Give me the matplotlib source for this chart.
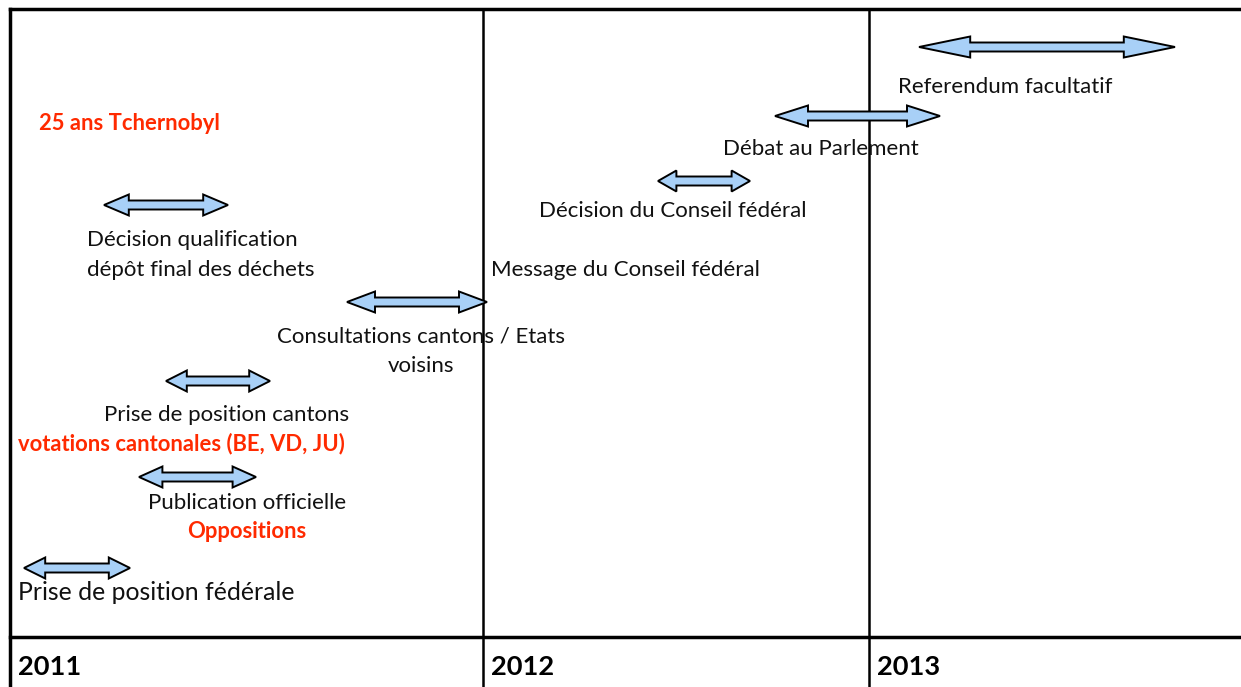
import matplotlib.pyplot as plt
from matplotlib.patches import Polygon

# timeline layout (in picture units, left -> right)
year_labels = ['2011', '2012', '2013']
year_starts = [10, 483, 869]

# arrows: start, end, vertical position
arrow_start = [919, 775, 658, 347, 104, 166, 139, 24]
arrow_end = [1175, 940, 750, 487, 228, 270, 256, 130]
arrow_y = [47, 116, 181, 302, 205, 381, 477, 568]

# black labels
labels = ['Referendum facultatif', 'Débat au Parlement', 'Décision du Conseil fédéral',
          'Message du Conseil fédéral', 'Consultations cantons / Etats\nvoisins',
          'Décision qualification\ndépôt final des déchets', 'Prise de position cantons',
          'Publication officielle', 'Prise de position fédérale']
label_x = [898, 723, 539, 491, 421, 87, 104, 148, 18]
label_y = [87, 149, 211, 270, 351, 255, 415, 503, 593]
label_ha = ['left', 'left', 'left', 'left', 'center', 'left', 'left', 'left', 'left']
label_size = [16, 16, 16, 16, 16, 16, 16, 16, 17.8]

# red highlights
notes = ['25 ans Tchernobyl', 'votations cantonales (BE, VD, JU)', 'Oppositions']
note_x = [39, 18, 187]
note_y = [124, 444, 532]

W, H = 1241, 687
fig = plt.figure(figsize=(W / 100, H / 100), dpi=100)
ax = fig.add_axes([0, 0, 1, 1])
ax.set_xlim(0, W)
ax.set_ylim(H, 0)
ax.axis('off')
font = 'Lato'

# grid of the table
ax.plot([year_starts[0], W], [9, 9], color='black', lw=2.5)
ax.plot([year_starts[0], W], [637, 637], color='black', lw=2.5)
for x in year_starts:
    ax.plot([x, x], [9, H], color='black', lw=2.5 if x == year_starts[0] else 1.8)
for yl, x in zip(year_labels, year_starts):
    ax.text(x + 8, 667, yl, fontsize=19.6, fontweight='bold', family=font,
            va='center', ha='left')


def double_arrow(x0, x1, y, shaft=9, head=21):
    hl = 0.2 * (x1 - x0)
    pts = [(x0, y), (x0 + hl, y - head / 2), (x0 + hl, y - shaft / 2),
           (x1 - hl, y - shaft / 2), (x1 - hl, y - head / 2), (x1, y),
           (x1 - hl, y + head / 2), (x1 - hl, y + shaft / 2),
           (x0 + hl, y + shaft / 2), (x0 + hl, y + head / 2)]
    ax.add_patch(Polygon(pts, closed=True, facecolor='#a8d0f7',
                         edgecolor='black', lw=1.4, zorder=3))


for x0, x1, y in zip(arrow_start, arrow_end, arrow_y):
    double_arrow(x0, x1, y)

for t, x, y, ha, s in zip(labels, label_x, label_y, label_ha, label_size):
    ax.text(x, y, t, fontsize=s, family=font, ha=ha, va='center',
            multialignment=ha, linespacing=1.6, color='#111111', zorder=4)

for t, x, y in zip(notes, note_x, note_y):
    ax.text(x, y, t, fontsize=15.8, fontweight='bold', family=font,
            ha='left', va='center', color='#ff2a00', zorder=4)

fig.savefig('out.png', dpi=100)
